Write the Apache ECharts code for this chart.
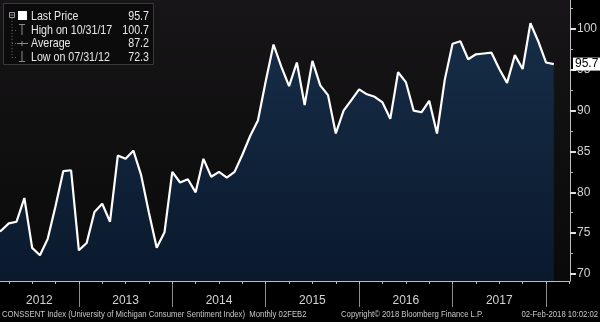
<!DOCTYPE html>
<html><head><meta charset="utf-8">
<script src="https://cdn.jsdelivr.net/npm/echarts@6/dist/echarts.min.js"></script>
<style>html,body{margin:0;background:#000}#c{width:600px;height:322px}</style>
</head><body><div id="c"></div>
<script>
// Monthly values (month-end), Jan 2012 .. Jan 2018
const yearLabels = ['2012','2013','2014','2015','2016','2017'];
const v2012 = [75.0,75.3,76.2,76.4,79.3,73.2,72.3,74.3,78.3,82.6,82.7,72.9];
const v2013 = [73.8,77.6,78.6,76.4,84.5,84.1,85.1,82.1,77.5,73.2,75.1,82.5];
const v2014 = [81.2,81.6,80.0,84.1,81.9,82.5,81.8,82.5,84.6,86.9,88.8,93.6];
const v2015 = [98.1,95.4,93.0,95.9,90.7,96.1,93.1,91.9,87.2,90.0,91.3,92.6];
const v2016 = [92.0,91.7,91.0,89.0,94.7,93.5,90.0,89.8,91.2,87.2,93.8,98.2];
const v2017 = [98.5,96.3,96.9,97.0,97.1,95.1,93.4,96.8,95.1,100.7,98.5,95.9];
const v2018 = [95.7];
const yTicks = [70,75,80,85,90,95,100];
const yMinorTicks = [72.5,77.5,82.5,87.5,92.5,97.5,102.5];

const FONT = '"Liberation Sans",Arial,sans-serif';
const all = [].concat(v2012,v2013,v2014,v2015,v2016,v2017,v2018);
const data = all.map((v,i)=>[i+1, v]);   // x = months since 1 Jan 2012 at month end
const X_MIN = 1.87, X_MAX = 75.08;
const visible = data.filter(d=>d[0] >= X_MIN);

function dateOf(idx){
  const y = 2012 + Math.floor((idx-1)/12), m = (idx-1)%12 + 1;
  const d = new Date(y, m, 0).getDate();
  const p = n => String(n).padStart(2,'0');
  return p(m)+'/'+p(d)+'/'+String(y).slice(2);
}
const last = visible[visible.length-1];
let hi = visible[0], lo = visible[0], sum = 0;
visible.forEach(d=>{ if(d[1]>=hi[1]) hi=d; if(d[1]<lo[1]) lo=d; sum+=d[1]; });
const avg = sum/visible.length;

const yearBounds = yearLabels.map((_,i)=>(i+1)*12);
const yearCenters = yearLabels.map((_,i)=>{ const a=Math.max(i*12, X_MIN), b=(i+1)*12; return (a+b)/2; });
const quarterTicks = []; for(let q=3;q<X_MAX;q+=3) quarterTicks.push(q);

const txt = (x,y,t,align,size,fill,sx)=>({type:'text', x, y, scaleX:sx||1,
  style:{text:t, fill:fill||'#e6e6e6', font:(size||13)+'px '+FONT, textAlign:align||'left', textVerticalAlign:'middle'}});
const ln = (x1,y1,x2,y2,c,dash)=>({type:'line', shape:{x1,y1,x2,y2}, style:{stroke:c||'#8a8a8a', lineWidth:1, lineDash:dash||null}});

const rows = [
  ['Last Price', last[1].toFixed(1), 16],
  ['High on '+dateOf(hi[0]), hi[1].toFixed(1), 30],
  ['Average', avg.toFixed(1), 43.5],
  ['Low on '+dateOf(lo[0]), lo[1].toFixed(1), 57]
];
const legendEls = [
  {type:'rect', shape:{x:3.5,y:3.5,width:150,height:61}, style:{fill:'#0b0b0b', stroke:'#3a3a3a', lineWidth:1}},
  {type:'rect', shape:{x:9.5,y:12.5,width:5,height:5}, style:{fill:'none', stroke:'#999', lineWidth:1}},
  ln(10.5,15,13.5,15,'#999'),
  ln(12,18,12,57.5,'#666',[1,2]),
  ln(12,30.5,17,30.5,'#666',[1,2]),
  ln(12,43.5,17,43.5,'#666',[1,2]),
  ln(12,57.5,17,57.5,'#666',[1,2]),
  {type:'rect', shape:{x:18,y:11,width:9,height:9}, style:{fill:'#fff'}},
  ln(19,24.5,25,24.5,'#8a8a8a'), ln(22,24.5,22,35,'#8a8a8a'),
  ln(17,43.5,28,43.5,'#8a8a8a'), ln(22,41,22,46,'#8a8a8a'),
  ln(22,51,22,61.5,'#8a8a8a'), ln(19,61.5,25,61.5,'#8a8a8a')
];
rows.forEach(r=>{ legendEls.push(txt(31,r[2],r[0],'left',13,'#e8e8e8',0.82)); legendEls.push(txt(149,r[2],r[1],'right',13,'#e8e8e8',0.82)); });

const footer = [
  txt(2,315,'CONSSENT Index (University of Michigan Consumer Sentiment Index)  Monthly 02FEB2','left',9,'#c8c8c8',0.86),
  txt(341,315,'Copyright\u00a9 2018 Bloomberg Finance L.P.','left',9,'#c8c8c8',0.86),
  txt(598,315,'02-Feb-2018 10:02:02','right',9,'#c8c8c8',0.86)
];

const axisCommon = {type:'value', min:X_MIN, max:X_MAX, position:'bottom', splitLine:{show:false}};
const chart = echarts.init(document.getElementById('c'), null, {renderer:'canvas'});
chart.setOption({
  backgroundColor:'#000',
  animation:false,
  grid:{left:0, right:29, top:0, bottom:41, show:true, borderWidth:0,
    backgroundColor:{type:'linear',x:0,y:0,x2:0,y2:1,colorStops:[{offset:0,color:'#171517'},{offset:1,color:'#0a0a0a'}]}},
  xAxis:[
    Object.assign({}, axisCommon, {
      axisLine:{show:true, lineStyle:{color:'#bdbdbd', width:1}},
      axisTick:{show:true, customValues:yearBounds, length:26, lineStyle:{color:'#8c8c8c', width:1}},
      axisLabel:{show:true, customValues:yearCenters, margin:14, color:'#d4d4d4', fontSize:12, fontFamily:FONT,
        formatter:v=>yearLabels[Math.min(yearLabels.length-1, Math.floor(v/12))]}
    }),
    Object.assign({}, axisCommon, {
      axisLine:{show:false},
      axisTick:{show:true, customValues:quarterTicks, length:3, lineStyle:{color:'#bdbdbd', width:1}},
      axisLabel:{show:false}
    })
  ],
  yAxis:[
    {type:'value', position:'right', min:69.14, max:103.55, splitLine:{show:false},
      axisLine:{show:true, lineStyle:{color:'#bdbdbd', width:1}},
      axisTick:{show:true, customValues:yTicks, length:6, lineStyle:{color:'#e0e0e0', width:2}},
      axisLabel:{show:true, customValues:yTicks, margin:7, color:'#d4d4d4', fontSize:12, fontFamily:FONT}},
    {type:'value', position:'right', min:69.14, max:103.55, splitLine:{show:false},
      axisLine:{show:false},
      axisTick:{show:true, customValues:yMinorTicks, length:3, lineStyle:{color:'#bdbdbd', width:1}},
      axisLabel:{show:false}}
  ],
  series:[{
    type:'line', data:data, xAxisIndex:0, yAxisIndex:0, symbol:'none', clip:true,
    lineStyle:{color:'#ffffff', width:2.2},
    areaStyle:{origin:'start', color:{type:'linear',x:0,y:0,x2:0,y2:1,colorStops:[{offset:0,color:'#17395e'},{offset:1,color:'#0a1f3b'}]}},
    markLine:{silent:true, symbol:'none', lineStyle:{color:'rgba(0,0,0,0)', width:0},
      data:[{yAxis:last[1]}],
      label:{show:true, position:'end', distance:3, formatter:()=>last[1].toFixed(1),
        backgroundColor:'#ffffff', color:'#000', fontSize:12, fontFamily:FONT, padding:[1,2,0,2]}}
  }],
  graphic:{elements: legendEls.concat(footer)}
});
</script></body></html>
